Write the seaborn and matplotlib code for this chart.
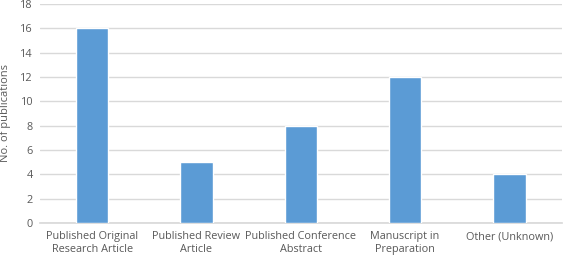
import matplotlib
matplotlib.use("Agg")
import matplotlib.pyplot as plt
import seaborn as sns
import pandas as pd

categories = ["Published Original\nResearch Article", "Published Review\nArticle",
              "Published Conference\nAbstract", "Manuscript in\nPreparation", "Other (Unknown)"]
counts = [16, 5, 8, 12, 4]
yticks = [0, 2, 4, 6, 8, 10, 12, 14, 16, 18]

sns.set_theme(style="white")
plt.rcParams['font.family'] = ['Open Sans', 'DejaVu Sans']

df = pd.DataFrame({"cat": categories, "n": counts})
fig = plt.figure(figsize=(5.67, 2.59), dpi=100)
ax = fig.add_axes([0.0705, 0.139, 0.92, 0.846])
sns.barplot(data=df, x="cat", y="n", color="#5B9BD5", saturation=1, width=0.31, ax=ax, zorder=3)
ax.set_ylim(0, 18)
ax.set_yticks(yticks)
ax.set_xlim(-0.5, 4.5)
ax.grid(axis="y", color="#D9D9D9", linewidth=1, zorder=0)
for s in ["top", "right", "left"]:
    ax.spines[s].set_visible(False)
ax.spines["bottom"].set_color("#D9D9D9")
ax.tick_params(axis="y", colors="#595959", labelsize=7.8, length=0, pad=5)
ax.tick_params(axis="x", colors="#595959", labelsize=7.8, length=0, pad=6)
for t in ax.get_xticklabels():
    t.set_linespacing(1.25)
ax.set_xlabel("")
ax.set_ylabel("No. of publications", color="#595959", fontsize=8, labelpad=7)
fig.savefig("out.png", dpi=100)
